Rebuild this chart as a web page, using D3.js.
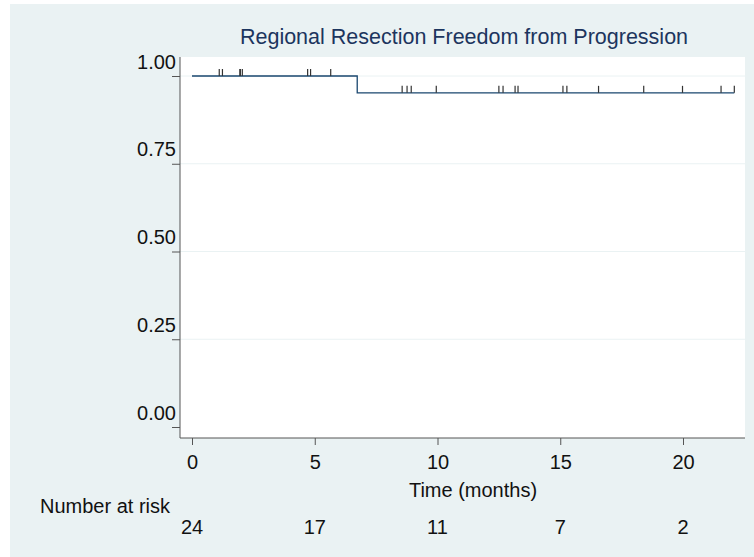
<!DOCTYPE html>
<html>
<head>
<meta charset="utf-8">
<script src="https://cdn.jsdelivr.net/npm/d3@7"></script>
<style>
  body { margin: 0; background: #fff; }
  svg { display: block; font-family: "Liberation Sans", Arial, sans-serif; }
</style>
</head>
<body>
<div id="chart"></div>
<script>
// survival curve steps (time, survival)
var stepTimes = [0, 6.73, 22.09];
var stepSurv = [1.0, 0.952, 0.952];
// censored times
var censorTimes = [1.11, 1.24, 1.95, 1.97, 2.05, 4.71, 4.83, 5.65,
  8.56, 8.76, 8.93, 9.95, 12.50, 12.67, 13.16, 13.28, 15.11, 15.27,
  16.56, 18.40, 19.98, 21.55, 22.09];
var xTicks = [0, 5, 10, 15, 20];
var yTicks = [0, 0.25, 0.5, 0.75, 1];
var atRisk = [24, 17, 11, 7, 2];

var W = 754, H = 557;
var svg = d3.select("#chart").append("svg").attr("width", W).attr("height", H);

svg.append("rect").attr("x", 10).attr("y", 4).attr("width", W - 10).attr("height", H - 4)
  .attr("fill", "#eaf2f3");

var plotL = 180, plotR = 745, plotT = 57, plotB = 438;
svg.append("rect").attr("x", plotL).attr("y", plotT)
  .attr("width", plotR - plotL).attr("height", plotB - plotT).attr("fill", "#fff");

var x = d3.scaleLinear().domain([0, 20]).range([192, 683]);
var y = d3.scaleLinear().domain([0, 1]).range([427, 76]);

// gridlines
svg.append("g").selectAll("line").data(yTicks.filter(function (d) { return d > 0; }))
  .enter().append("line")
  .attr("x1", plotL).attr("x2", plotR)
  .attr("y1", function (d) { return y(d); }).attr("y2", function (d) { return y(d); })
  .attr("stroke", "#eaf2f3").attr("stroke-width", 1);

// axes
var yAxis = svg.append("g").attr("transform", "translate(" + plotL + ",0)")
  .call(d3.axisLeft(y).tickValues(yTicks).tickFormat(d3.format(".2f")).tickSize(8).tickSizeOuter(0));
yAxis.select(".domain").attr("d", "M0," + plotT + "V" + plotB).attr("stroke", "#555");
yAxis.selectAll(".tick line").attr("stroke", "#555");
yAxis.selectAll(".tick text").attr("font-size", 20).attr("fill", "#111")
  .attr("font-family", "Liberation Sans, Arial, sans-serif")
  .attr("x", -4).attr("y", -8).attr("dy", 0);

var xAxis = svg.append("g").attr("transform", "translate(0," + plotB + ")")
  .call(d3.axisBottom(x).tickValues(xTicks).tickSize(7).tickSizeOuter(0));
xAxis.select(".domain").attr("d", "M" + plotL + ",0H" + plotR).attr("stroke", "#555");
xAxis.selectAll(".tick line").attr("stroke", "#555");
xAxis.selectAll(".tick text").attr("font-size", 20).attr("fill", "#111")
  .attr("font-family", "Liberation Sans, Arial, sans-serif").attr("y", 17);

// curve
var pts = stepTimes.map(function (t, i) { return [t, stepSurv[i]]; });
var line = d3.line().x(function (d) { return x(d[0]); }).y(function (d) { return y(d[1]); })
  .curve(d3.curveStepAfter);
svg.append("path").datum(pts).attr("d", line)
  .attr("fill", "none").attr("stroke", "#1a476f").attr("stroke-width", 1.3);

function survAt(t) {
  var s = stepSurv[0];
  stepTimes.forEach(function (st, i) { if (t >= st) s = stepSurv[i]; });
  return s;
}
svg.append("g").selectAll("line").data(censorTimes).enter().append("line")
  .attr("x1", function (d) { return x(d); }).attr("x2", function (d) { return x(d); })
  .attr("y1", function (d) { return y(survAt(d)); })
  .attr("y2", function (d) { return y(survAt(d)) - 7; })
  .attr("stroke", "#333").attr("stroke-width", 1.2);

// title
svg.append("text").attr("x", 464).attr("y", 44).attr("text-anchor", "middle")
  .attr("font-size", 21.5).attr("fill", "#1c355e").text("Regional Resection Freedom from Progression");

svg.append("text").attr("x", 473).attr("y", 497).attr("text-anchor", "middle")
  .attr("font-size", 20).attr("fill", "#111").text("Time (months)");

svg.append("text").attr("x", 40).attr("y", 513)
  .attr("font-size", 20).attr("fill", "#111").text("Number at risk");

svg.append("g").selectAll("text").data(atRisk).enter().append("text")
  .attr("x", function (d, i) { return x(xTicks[i]); }).attr("y", 534)
  .attr("text-anchor", "middle").attr("font-size", 20).attr("fill", "#111")
  .text(function (d) { return d; });
</script>
</body>
</html>
